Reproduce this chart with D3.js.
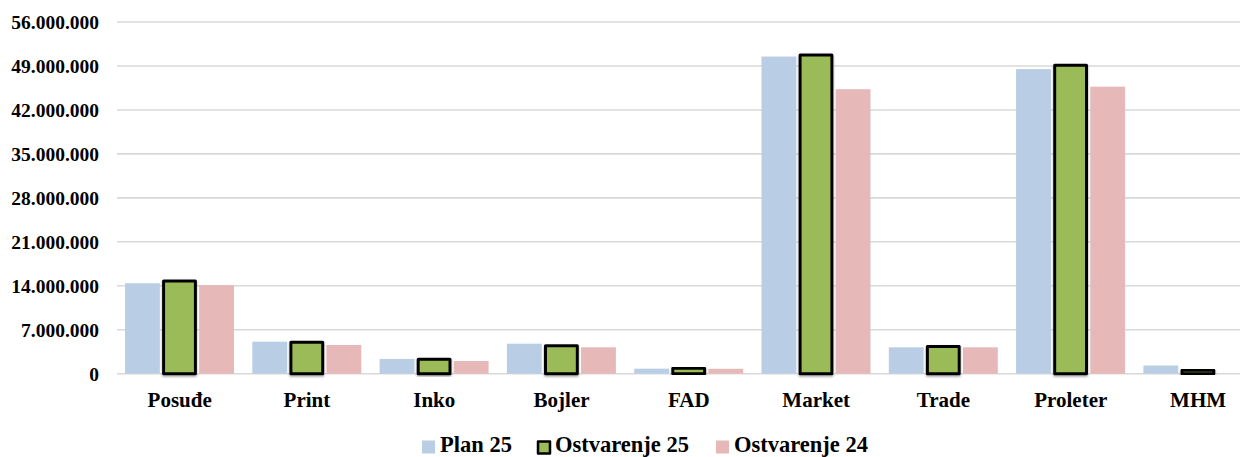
<!DOCTYPE html>
<html><head><meta charset="utf-8">
<script src="https://cdn.jsdelivr.net/npm/d3@7"></script>
<style>
html,body{margin:0;padding:0;background:#fff;}
svg{display:block;}
svg text{font-family:"Liberation Serif","Times New Roman",Tinos,"DejaVu Serif",serif !important;font-weight:bold;fill:#000;}
</style></head>
<body>
<svg id="c" width="1240" height="457"></svg>
<script>
const categories = ["Posuđe","Print","Inko","Bojler","FAD","Market","Trade","Proleter","MHM"];
const seriesNames = ["Plan 25","Ostvarenje 25","Ostvarenje 24"];
const plan25 = [14400000, 5100000, 2350000, 4780000, 800000, 50500000, 4200000, 48500000, 1300000];
const ostv25 = [14750000, 5000000, 2300000, 4450000, 850000, 50750000, 4330000, 49100000, 550000];
const ostv24 = [14100000, 4570000, 2020000, 4200000, 780000, 45300000, 4200000, 45700000, 0];
const yTicks = [0, 7000000, 14000000, 21000000, 28000000, 35000000, 42000000, 49000000, 56000000];
const colors = ["#B9CDE5", "#9BBB59", "#E6B9B8"];

const svg = d3.select("#c");
const defs = svg.append("defs");
const f = defs.append("filter").attr("id","sh").attr("x","-20%").attr("y","-20%").attr("width","140%").attr("height","140%");
f.append("feDropShadow").attr("dx",0).attr("dy",1.5).attr("stdDeviation",0.8).attr("flood-color","#666").attr("flood-opacity",0.6);

const y = d3.scaleLinear().domain([0, 56000000]).range([373.7, 22]);
const x0 = d3.scaleBand().domain(categories).range([116, 1261.7]).padding(0);
const x1 = d3.scaleBand().domain(seriesNames).range([9, 118]).paddingInner(0.06).paddingOuter(0);

const fmt = v => d3.format(",")(v).replace(/,/g, ".");

svg.append("g").selectAll("line").data(yTicks).join("line")
  .attr("x1", 117).attr("x2", 1240)
  .attr("y1", d => y(d)).attr("y2", d => y(d))
  .attr("stroke", "#D9D9D9").attr("stroke-width", 1.6);

const yAxis = d3.axisLeft(y).tickValues(yTicks).tickFormat(fmt).tickSize(0).tickPadding(0);
const ga = svg.append("g").attr("transform","translate(99,0)").call(yAxis);
ga.attr("font-family", null).attr("font-size", null);
ga.select(".domain").remove();
ga.selectAll("text").attr("font-size", 19.5).attr("dy","0.35em");

const data = [plan25, ostv25, ostv24];
categories.forEach((c, i) => {
  const g = svg.append("g").attr("transform", `translate(${x0(c)},0)`);
  seriesNames.forEach((s, k) => {
    const v = data[k][i];
    const r = g.append("rect")
      .attr("x", x1(s)).attr("width", x1.bandwidth())
      .attr("y", y(v)).attr("height", Math.max(0, y(0) - y(v)))
      .attr("fill", colors[k]);
    if (k === 1) {
      r.attr("x", x1(s) + 1.5).attr("width", x1.bandwidth() - 3)
       .attr("stroke", "#000").attr("stroke-width", 3).attr("stroke-linejoin","round")
       .attr("filter","url(#sh)");
    }
  });
});

const xAxis = d3.axisBottom(x0).tickSize(0).tickPadding(0);
const gx = svg.append("g").attr("transform","translate(0,407)").call(xAxis);
gx.attr("font-family", null).attr("font-size", null);
gx.select(".domain").remove();
gx.selectAll("text").attr("font-size", 21).attr("dy",0);

const legX = [422, 537, 716];
const lg = svg.append("g");
seriesNames.forEach((s, k) => {
  const r = lg.append("rect").attr("x", legX[k]).attr("y", 440.5).attr("width", 13).attr("height", 13).attr("fill", colors[k]);
  if (k === 1) r.attr("x", legX[k]+1).attr("y", 441.5).attr("width", 12).attr("height", 12).attr("stroke","#000").attr("stroke-width",2.5).attr("stroke-linejoin","round");
  lg.append("text").attr("x", legX[k] + 18).attr("y", 452).attr("font-size", 22.5).text(s);
});
</script>
</body></html>
